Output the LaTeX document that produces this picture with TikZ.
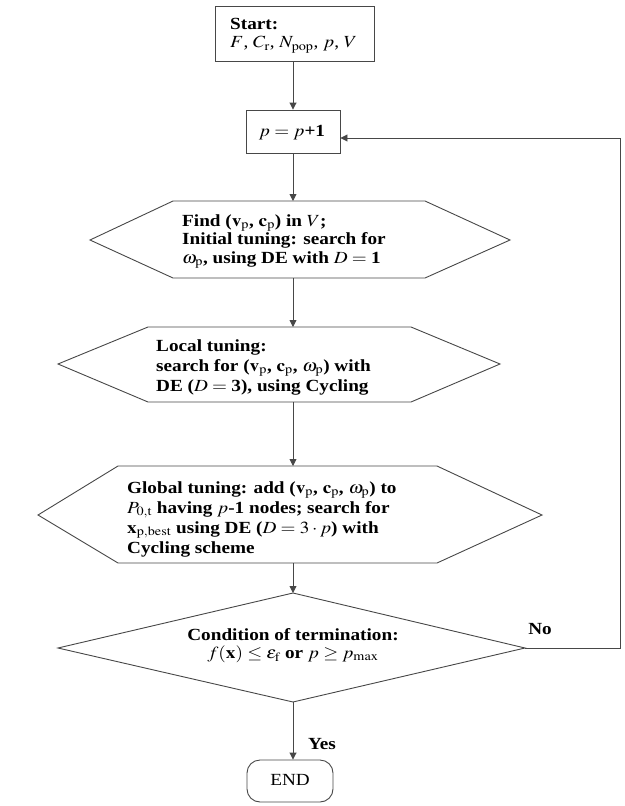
\documentclass[tikz,border=0pt]{standalone}
\usepackage{mathptmx}
\usepackage[no-math]{fontspec}
\setmainfont{Liberation Serif}
\usetikzlibrary{arrows.meta}
\newcommand\mywide[2][l]{\scalebox{1.13}[1]{\begin{tabular}{@{}#1@{}}#2\end{tabular}}}
\begin{document}
\begin{tikzpicture}[x=1pt,y=-1pt,
  line/.style={draw=black!72, line width=0.9pt},
  arr/.style={line, -{Triangle[length=7pt,width=7pt]}},
  txt/.style={font=\fontsize{17}{20}\selectfont\bfseries, inner sep=0pt},
  boxnode/.style={line, rectangle, inner sep=0pt},
]
\useasboundingbox (0,0) rectangle (624,806);

% start box
\node[boxnode, minimum width=159pt, minimum height=55pt] (start) at (294.5,33.5) {};
\node[txt, anchor=west, font=\fontsize{17}{18.5}\selectfont\bfseries] (starttxt) at (230,35) {\mywide{Start:\\\mdseries $F$, $C_{\mathrm{r}}$, $N_{\mathrm{pop}}$, $p$, $V$}};

% p box
\node[boxnode, minimum width=94pt, minimum height=43pt] (pbox) at (293,131.5) {};
\node[txt] (ptxt) at (292,132) {\mywide{\mdseries $p = p$\textbf{+1}}};

% hexagon 1
\draw[line] (90,240) -- (173,201) -- (425,201) -- (510,240) -- (425,278) -- (173,278) -- cycle;
\coordinate (h1t) at (293,201);
\coordinate (h1b) at (293,278);
\node[txt, anchor=west, font=\fontsize{17}{18.5}\selectfont\bfseries] (h1txt) at (182,241) {\mywide{Find ($\mathbf{v}_{\mathrm{p}}$, $\mathbf{c}_{\mathrm{p}}$) in $V$;\\
Initial tuning: search for\\
$\omega_{\mathrm{p}}$, using DE with $D = {}$1}};

% hexagon 2
\draw[line] (58,364) -- (148,327) -- (411,327) -- (500,364) -- (411,402) -- (148,402) -- cycle;
\coordinate (h2t) at (293,327);
\coordinate (h2b) at (293,402);
\node[txt, anchor=west] (h2txt) at (156,367) {\mywide{Local tuning:\\
search for ($\mathbf{v}_{\mathrm{p}}$, $\mathbf{c}_{\mathrm{p}}$, $\omega_{\mathrm{p}}$) with\\
DE ($D = {}$3), using Cycling}};

% hexagon 3
\draw[line] (38,515) -- (118,466) -- (437,466) -- (542,515) -- (437,563) -- (118,563) -- cycle;
\coordinate (h3t) at (293,466);
\coordinate (h3b) at (293,563);
\node[txt, anchor=west] (h3txt) at (127,519) {\mywide{Global tuning: add ($\mathbf{v}_{\mathrm{p}}$, $\mathbf{c}_{\mathrm{p}}$, $\omega_{\mathrm{p}}$) to\\
$P_{0,\mathrm{t}}$ having $p$-1 nodes; search for\\
$\mathbf{x}_{\mathrm{p,best}}$ using DE ($D = 3\cdot p$) with\\
Cycling scheme}};

% diamond
\draw[line] (293,593) -- (525,648) -- (293,702) -- (58,648) -- cycle;
\coordinate (dt) at (293,593);
\coordinate (db) at (293,702);
\coordinate (dr) at (525,648);
\node[txt, font=\fontsize{17}{17}\selectfont\bfseries] (dtxt) at (293,646) {\mywide[c]{Condition of termination:\\
\mdseries $f(\mathbf{x}) \le \varepsilon_{\mathrm{f}}$ \textbf{or} $p \ge p_{\mathrm{max}}$}};

% end
\node[line, rounded corners=13pt, minimum width=86pt, minimum height=42pt, inner sep=0pt,
  font=\fontsize{17}{20}\selectfont] (endn) at (290,781) {\mywide{END}};

% labels
\node[txt] (yes) at (322,745) {\mywide{Yes}};
\node[txt] (no) at (540,630) {\mywide{No}};

% connectors
\draw[arr] (start.south -| 293,0) -- (pbox.north);
\draw[arr] (pbox.south) -- (h1t);
\draw[arr] (h1b) -- (h2t);
\draw[arr] (h2b) -- (h3t);
\draw[arr] (h3b) -- (dt);
\draw[arr] (db) -- (db |- endn.north);
\coordinate (fb1) at (620,648);
\coordinate (fb2) at (620,138);
\draw[arr] (dr) -- (fb1) -- (fb2) -- ([yshift=-6.5pt]pbox.east);
\end{tikzpicture}
\end{document}
